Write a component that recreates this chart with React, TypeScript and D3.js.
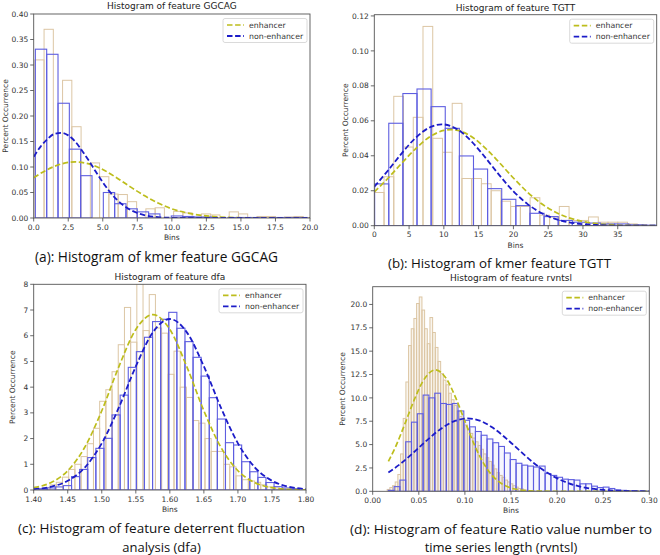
import React from 'react'
import * as d3 from 'd3'

type Pt = [number, number]

// ---------- (a) kmer feature GGCAG ----------
const ggcagXTicks = [0, 2.5, 5, 7.5, 10, 12.5, 15, 17.5, 20]
const ggcagYTicks = [0, 0.05, 0.1, 0.15, 0.2, 0.25, 0.3, 0.35, 0.4]
const ggcagEnhBinStart = 0.08
const ggcagEnhBinWidth = 0.67
const ggcagEnhBars = [0.31, 0.37, 0, 0.27, 0.179, 0, 0.108, 0.081, 0.047, 0.046, 0.032, 0, 0.018, 0.02, 0, 0.013, 0.01, 0, 0.008, 0.006, 0, 0.012, 0.008, 0, 0.003, 0.003, 0, 0.002, 0.003, 0.001]
const ggcagNonBinStart = 0.12
const ggcagNonBinWidth = 0.82
const ggcagNonBars = [0.331, 0.321, 0.225, 0.135, 0.083, 0, 0.05, 0.028, 0.018, 0.012, 0.008, 0, 0.004, 0.003, 0.002, 0.002, 0, 0.001, 0.001, 0.001, 0, 0.001, 0.001, 0.001]
const ggcagEnhFit: Pt[] = [[0, 0.079], [1, 0.095], [2, 0.106], [3, 0.11], [4, 0.106], [5, 0.095], [6, 0.079], [7, 0.061], [8, 0.044], [9, 0.0295], [10, 0.018], [11, 0.0106], [12, 0.0057], [13, 0.0029], [14, 0.0013], [16, 0.0002], [18, 0], [20, 0]]
const ggcagNonFit: Pt[] = [[0, 0.12], [0.5, 0.14], [1, 0.155], [1.5, 0.165], [2, 0.167], [2.5, 0.162], [3, 0.15], [3.5, 0.132], [4, 0.112], [4.5, 0.0906], [5, 0.07], [5.5, 0.0517], [6, 0.0365], [6.5, 0.0246], [7, 0.0159], [7.5, 0.0098], [8, 0.0058], [9, 0.0017], [10, 0.0004], [12, 0], [20, 0]]

// ---------- (b) kmer feature TGTT ----------
const tgttXTicks = [0, 5, 10, 15, 20, 25, 30, 35]
const tgttYTicks = [0, 0.02, 0.04, 0.06, 0.08, 0.1, 0.12]
const tgttEnhBinStart = 0
const tgttEnhBinWidth = 1.4
const tgttEnhBars = [0.019, 0.028, 0.074, 0.045, 0.062, 0.114, 0.05, 0.042, 0.07, 0.027, 0.027, 0.024, 0.02, 0.014, 0.011, 0.011, 0.016, 0.006, 0.005, 0.011, 0.003, 0.003, 0.005, 0.002, 0.002, 0.002, 0.001, 0.0005]
const tgttNonBinStart = 0.05
const tgttNonBinWidth = 2.03
const tgttNonBars = [0.0239, 0.0586, 0.0756, 0.0782, 0.0681, 0.0557, 0.0399, 0.0324, 0.0212, 0.0151, 0.0115, 0.0071, 0.0052, 0.003, 0.002, 0.0015, 0.001, 0.001, 0.0005, 0.0003]
const tgttEnhFit: Pt[] = [[0, 0.0193], [2, 0.0273], [4, 0.036], [6, 0.0443], [8, 0.0509], [10, 0.0545], [11, 0.055], [12, 0.0545], [14, 0.0509], [16, 0.0443], [18, 0.036], [20, 0.0273], [22, 0.0193], [24, 0.0127], [26, 0.0078], [28, 0.0045], [30, 0.0024], [32, 0.0012], [34, 0.0006], [36, 0.0002], [38, 0.0001], [40.6, 0]]
const tgttNonFit: Pt[] = [[0, 0.0223], [2, 0.0317], [4, 0.0417], [6, 0.0505], [8, 0.0563], [9.7, 0.058], [12, 0.055], [14, 0.0481], [16, 0.0388], [18, 0.0288], [20, 0.0197], [22, 0.0125], [24, 0.0073], [26, 0.0039], [28, 0.0019], [30, 0.0009], [32, 0.0004], [34, 0.0001], [36, 0], [40.6, 0]]

// ---------- (c) deterrent fluctuation analysis ----------
const dfaXTicks = [1.4, 1.45, 1.5, 1.55, 1.6, 1.65, 1.7, 1.75, 1.8]
const dfaYTicks = [0, 1, 2, 3, 4, 5, 6, 7, 8]
const dfaEnhBinStart = 1.415
const dfaEnhBinWidth = 0.0091
const dfaEnhBars = [0.1, 0.2, 0.3, 0.5, 0.8, 1.0, 1.3, 1.8, 2.4, 3.45, 3.9, 4.6, 5.65, 7.1, 5.75, 8.2, 6.2, 7.6, 6.3, 6.1, 4.5, 5.4, 4.0, 3.6, 2.7, 2.6, 2.0, 1.5, 1.5, 1.0, 0.9, 0.55, 0.4, 0.35, 0.3, 0.2, 0.12, 0.08, 0.05]
const dfaNonBinStart = 1.408
const dfaNonBinWidth = 0.0119
const dfaNonBars = [0.05, 0.08, 0.12, 0.17, 0.52, 0.8, 1.26, 1.62, 2.01, 2.92, 3.69, 4.77, 5.38, 5.94, 6.55, 6.64, 6.91, 6.29, 5.77, 5.16, 4.43, 3.59, 2.76, 1.84, 1.75, 1.1, 0.71, 0.49, 0.29, 0.13, 0.08, 0.05]
const dfaEnhFit: Pt[] = [[1.4, 0.09], [1.425, 0.284], [1.45, 0.75], [1.475, 1.661], [1.5, 3.081], [1.525, 4.791], [1.55, 6.244], [1.575, 6.82], [1.6, 6.244], [1.625, 4.791], [1.65, 3.081], [1.675, 1.661], [1.7, 0.75], [1.725, 0.284], [1.75, 0.09], [1.775, 0.024], [1.8, 0.005]]
const dfaNonFit: Pt[] = [[1.4, 0.037], [1.425, 0.125], [1.45, 0.358], [1.475, 0.874], [1.5, 1.815], [1.525, 3.203], [1.55, 4.807], [1.575, 6.131], [1.6, 6.65], [1.625, 6.131], [1.65, 4.807], [1.675, 3.203], [1.7, 1.815], [1.725, 0.874], [1.75, 0.358], [1.775, 0.125], [1.8, 0.037]]

// ---------- (d) ratio value number to time series length ----------
const rvntslXTicks = [0, 0.05, 0.1, 0.15, 0.2, 0.25, 0.3]
const rvntslYTicks = [0, 2.5, 5, 7.5, 10, 12.5, 15, 17.5, 20]
const rvntslEnhBinStart = 0.0157
const rvntslEnhBinWidth = 0.0029
const rvntslEnhBars = [0.2, 0.4, 0.6, 1.0, 1.8, 4.0, 7.8, 11.7, 15.6, 17.4, 18.5, 20.1, 20.8, 19.4, 17.4, 15.8, 18.6, 17.0, 15.4, 13.9, 12.6, 11.9, 11.4, 10.5, 9.8, 9.2, 8.6, 8.0, 7.6, 7.1, 6.7, 6.2, 5.7, 5.3, 4.9, 4.5, 4.0, 3.6, 3.2, 2.8, 2.4, 2.0, 1.7, 1.5, 1.2, 1.0, 0.8, 0.6, 0.45, 0.3, 0.25, 0.15, 0.1, 0.08, 0.05]
const rvntslNonBinStart = 0.0169
const rvntslNonBinWidth = 0.0063
const rvntslNonBars = [0.1, 0.5, 1.2, 5.3, 7.4, 8.3, 10.3, 10.0, 10.5, 9.4, 9.3, 9.4, 8.6, 7.6, 6.9, 6.4, 6.0, 5.6, 5.2, 4.8, 4.1, 3.4, 3.0, 2.8, 2.7, 2.6, 2.7, 1.9, 1.7, 1.5, 1.3, 1.25, 1.2, 0.8, 0.8, 0.55, 0.4, 0.45, 0.3, 0.15, 0.1, 0.08, 0.05, 0.03, 0.02]
const rvntslEnhFit: Pt[] = [[0.017, 3.21], [0.025, 4.81], [0.035, 7.24], [0.045, 9.78], [0.055, 11.87], [0.068, 13.0], [0.08, 12.03], [0.09, 10.02], [0.1, 7.5], [0.11, 5.04], [0.12, 3.04], [0.13, 1.65], [0.14, 0.8], [0.15, 0.35], [0.16, 0.14], [0.175, 0.03], [0.2, 0], [0.3, 0]]
const rvntslNonFit: Pt[] = [[0.017, 2.01], [0.03, 2.93], [0.045, 4.21], [0.06, 5.56], [0.075, 6.76], [0.09, 7.56], [0.103, 7.8], [0.115, 7.6], [0.13, 6.82], [0.145, 5.64], [0.16, 4.3], [0.175, 3.01], [0.19, 1.95], [0.205, 1.16], [0.22, 0.63], [0.235, 0.32], [0.25, 0.15], [0.265, 0.06], [0.28, 0.02], [0.3, 0]]

const TAN = '#dcc6a4'
const BLUE_EDGE = '#5e5ee0'
const YELLOW = '#bdbd1c'
const BLUE = '#1c1cc8'
const FONT = 'DejaVu Sans, sans-serif'

interface Frame { left: number; right: number; top: number; bottom: number }
interface Hist { start: number; width: number; values: number[] }

interface PanelProps {
  id: string
  title: string
  titleY: number
  frame: Frame
  xDomain: [number, number]
  yDomain: [number, number]
  xTicks: number[]
  yTicks: number[]
  xFmt: string
  yFmt: string
  yLabelX: number
  enh: Hist
  non: Hist
  enhFit: Pt[]
  nonFit: Pt[]
  filled: boolean
}

function Panel(p: PanelProps) {
  const { frame } = p
  const x = d3.scaleLinear().domain(p.xDomain).range([frame.left, frame.right])
  const y = d3.scaleLinear().domain(p.yDomain).range([frame.bottom, frame.top])
  const line = d3.line<Pt>().x((d) => x(d[0])).y((d) => y(d[1])).curve(d3.curveMonotoneX)
  const xf = d3.format(p.xFmt)
  const yf = d3.format(p.yFmt)
  const bins = (h: Hist) =>
    h.values
      .map((v, i) => ({ x0: h.start + i * h.width, x1: h.start + (i + 1) * h.width, v }))
      .filter((b) => b.v > 0)
  const clipId = `clip-${p.id}`
  const w = frame.right - frame.left
  const h = frame.bottom - frame.top
  const lgX = frame.right - 87
  const lgY = frame.top + 4.5

  return (
    <g fontFamily={FONT}>
      <defs>
        <clipPath id={clipId}>
          <rect x={frame.left} y={frame.top} width={w} height={h} />
        </clipPath>
      </defs>
      <g clipPath={`url(#${clipId})`}>
        {bins(p.enh).map((b, i) => (
          <rect key={'e' + i} x={x(b.x0)} y={y(b.v)} width={x(b.x1) - x(b.x0)} height={y(0) - y(b.v)}
            fill={p.filled ? 'rgba(215,185,140,0.15)' : 'none'} stroke={TAN} strokeWidth={1} />
        ))}
        {bins(p.non).map((b, i) => (
          <rect key={'n' + i} x={x(b.x0)} y={y(b.v)} width={x(b.x1) - x(b.x0)} height={y(0) - y(b.v)}
            fill={p.filled ? 'rgba(80,80,230,0.05)' : 'none'} stroke={BLUE_EDGE} strokeWidth={1.1} />
        ))}
        <path d={line(p.enhFit) ?? ''} fill="none" stroke={YELLOW} strokeWidth={1.7} strokeDasharray="5.5,2.6" />
        <path d={line(p.nonFit) ?? ''} fill="none" stroke={BLUE} strokeWidth={1.8} strokeDasharray="5.5,2.6" />
      </g>
      <rect x={frame.left} y={frame.top} width={w} height={h} fill="none" stroke="#555" strokeWidth={0.9} />
      {p.xTicks.map((t) => (
        <g key={'xt' + t} transform={`translate(${x(t)},${frame.bottom})`}>
          <line y2={3.5} stroke="#444" strokeWidth={0.8} />
          <text y={11.5} textAnchor="middle" fontSize={7.5} fill="#333">{xf(t)}</text>
        </g>
      ))}
      {p.yTicks.map((t) => (
        <g key={'yt' + t} transform={`translate(${frame.left},${y(t)})`}>
          <line x2={-3.5} stroke="#444" strokeWidth={0.8} />
          <text x={-5.5} dy="0.35em" textAnchor="end" fontSize={7.5} fill="#333">{yf(t)}</text>
        </g>
      ))}
      <text x={(frame.left + frame.right) / 2} y={p.titleY} textAnchor="middle" fontSize={9} fill="#222">{p.title}</text>
      <text x={(frame.left + frame.right) / 2} y={frame.bottom + 22} textAnchor="middle" fontSize={7.5} fill="#333">Bins</text>
      <text transform={`translate(${p.yLabelX},${(frame.top + frame.bottom) / 2}) rotate(-90)`} textAnchor="middle"
        dy="0.35em" fontSize={7.5} fill="#333">Percent Occurrence</text>
      <g transform={`translate(${lgX},${lgY})`}>
        <rect width={84} height={24} rx={2} fill="#fff" fillOpacity={0.85} stroke="#d0d0d0" strokeWidth={0.8} />
        <line x1={4} x2={21} y1={6.5} y2={6.5} stroke={YELLOW} strokeWidth={1.7} strokeDasharray="5.5,2.6" />
        <text x={26} y={6.5} dy="0.35em" fontSize={7.8} fill="#333">enhancer</text>
        <line x1={4} x2={21} y1={17.5} y2={17.5} stroke={BLUE} strokeWidth={1.8} strokeDasharray="5.5,2.6" />
        <text x={26} y={17.5} dy="0.35em" fontSize={7.8} fill="#333">non-enhancer</text>
      </g>
    </g>
  )
}

export default function App() {
  const panels: PanelProps[] = [
    {
      id: 'a', title: 'Histogram of feature GGCAG', titleY: 8.5,
      frame: { left: 33.7, right: 310, top: 14, bottom: 218 },
      xDomain: [0, 20], yDomain: [0, 0.4], xTicks: ggcagXTicks, yTicks: ggcagYTicks, xFmt: '.1f', yFmt: '.2f', yLabelX: 5,
      enh: { start: ggcagEnhBinStart, width: ggcagEnhBinWidth, values: ggcagEnhBars },
      non: { start: ggcagNonBinStart, width: ggcagNonBinWidth, values: ggcagNonBars },
      enhFit: ggcagEnhFit, nonFit: ggcagNonFit, filled: false,
    },
    {
      id: 'b', title: 'Histogram of feature TGTT', titleY: 11,
      frame: { left: 374.3, right: 656.7, top: 14.7, bottom: 225.7 },
      xDomain: [0, 40.6], yDomain: [0, 0.1207], xTicks: tgttXTicks, yTicks: tgttYTicks, xFmt: 'd', yFmt: '.2f', yLabelX: 345.5,
      enh: { start: tgttEnhBinStart, width: tgttEnhBinWidth, values: tgttEnhBars },
      non: { start: tgttNonBinStart, width: tgttNonBinWidth, values: tgttNonBars },
      enhFit: tgttEnhFit, nonFit: tgttNonFit, filled: false,
    },
    {
      id: 'c', title: 'Histogram of feature dfa', titleY: 279.5,
      frame: { left: 33.7, right: 306, top: 284.3, bottom: 490 },
      xDomain: [1.4, 1.8], yDomain: [0, 8], xTicks: dfaXTicks, yTicks: dfaYTicks, xFmt: '.2f', yFmt: 'd', yLabelX: 12,
      enh: { start: dfaEnhBinStart, width: dfaEnhBinWidth, values: dfaEnhBars },
      non: { start: dfaNonBinStart, width: dfaNonBinWidth, values: dfaNonBars },
      enhFit: dfaEnhFit, nonFit: dfaNonFit, filled: false,
    },
    {
      id: 'd', title: 'Histogram of feature rvntsl', titleY: 280.5,
      frame: { left: 372.7, right: 649.3, top: 286.7, bottom: 491.3 },
      xDomain: [0, 0.3], yDomain: [0, 21.9], xTicks: rvntslXTicks, yTicks: rvntslYTicks, xFmt: '.2f', yFmt: '.1f', yLabelX: 342.5,
      enh: { start: rvntslEnhBinStart, width: rvntslEnhBinWidth, values: rvntslEnhBars },
      non: { start: rvntslNonBinStart, width: rvntslNonBinWidth, values: rvntslNonBars },
      enhFit: rvntslEnhFit, nonFit: rvntslNonFit, filled: true,
    },
  ]

  const cap = { fontFamily: 'Open Sans, sans-serif', fill: '#111', textAnchor: 'middle' as const, lengthAdjust: 'spacingAndGlyphs' }

  return (
    <div style={{ position: 'absolute', left: 0, top: 0 }}>
      <svg width={660} height={555} style={{ display: 'block', background: '#fff' }}>
        {panels.map((p) => <Panel key={p.id} {...p} />)}
        <text x={156.5} y={262} fontSize={14} textLength={243} {...cap}>(a): Histogram of kmer feature GGCAG</text>
        <text x={499.5} y={268} fontSize={13.5} textLength={223} {...cap}>(b): Histogram of kmer feature TGTT</text>
        <text x={161.5} y={533} fontSize={13} textLength={287} {...cap}>(c): Histogram of feature deterrent fluctuation</text>
        <text x={161.5} y={551.5} fontSize={13} {...cap}>analysis (dfa)</text>
        <text x={501} y={533.5} fontSize={13} textLength={302} {...cap}>(d): Histogram of feature Ratio value number to</text>
        <text x={501} y={552.5 - 1} fontSize={13} {...cap}>time series length (rvntsl)</text>
      </svg>
    </div>
  )
}
